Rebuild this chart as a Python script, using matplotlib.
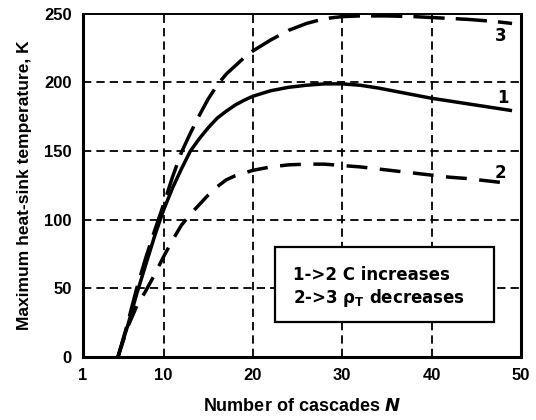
import matplotlib
matplotlib.use("Agg")
import matplotlib.pyplot as plt
from matplotlib.patches import Rectangle

# curve 1 (solid)
n1 = [4.9, 6, 7, 8, 9, 10, 11, 12, 13, 14, 15, 16, 17, 18, 19, 20, 22, 24, 26, 28, 30,
      32, 34, 36, 38, 40, 42, 44, 46, 48, 49]
t1 = [0, 23, 46, 67, 88, 107, 123, 137, 150, 159, 167, 174, 179, 183.5, 187, 190, 194,
      196.5, 198, 199, 199, 198, 196, 193.5, 191, 188.5, 186.5, 184.5, 182.5, 180.5, 179.5]

# curve 2 (short dashes)
n2 = [4.9, 6, 7, 8, 9, 10, 11, 12, 13, 14, 15, 16, 17, 18, 20, 22, 24, 26, 28, 30,
      32, 34, 36, 38, 40, 42, 44, 46, 48, 49]
t2 = [0, 22, 37, 48, 60, 73, 85, 96, 104, 111, 118, 124, 129, 132, 136, 138.5, 140,
      140.5, 140.5, 139.5, 138.5, 137, 135.5, 134, 132.5, 131, 130, 128.5, 127, 126]

# curve 3 (long dashes)
n3 = [4.9, 6, 7, 8, 9, 10, 11, 12, 13, 14, 15, 16, 17, 18, 19, 20, 22, 24, 26, 28, 30,
      32, 35, 38, 41, 44, 47, 49]
t3 = [0, 25, 50, 72, 92, 111, 131, 149, 163, 176, 188, 198, 206, 212, 218, 223, 231,
      238, 243, 246.5, 248, 248.5, 248.5, 248, 247, 246, 244.5, 243]

x_ticks = [1, 10, 20, 30, 40, 50]
y_ticks = [0, 50, 100, 150, 200, 250]
x_grid = [10, 20, 30, 40]
y_grid = [50, 100, 150, 200]

curve_labels = ["1", "2", "3"]
label_pos = [(48.0, 189), (47.7, 134), (47.7, 234)]

box_lines = ["1->2 C increases", r"2->3 ρ$_\mathbf{T}$ decreases"]

fig = plt.figure(figsize=(5.36, 4.2), dpi=100)
ax = fig.add_axes([0.155, 0.15, 0.817, 0.817])

for gx in x_grid:
    ax.axvline(gx, color="black", lw=1.3, dashes=(4.6, 2.8), zorder=1)
for gy in y_grid:
    ax.axhline(gy, color="black", lw=1.3, dashes=(4.6, 2.8), zorder=1)

ax.plot(n1, t1, color="black", lw=2.5, solid_capstyle="butt", zorder=3)
ax.plot(n2, t2, color="black", lw=2.5, dashes=(6.0, 3.6), zorder=3)
ax.plot(n3, t3, color="black", lw=2.5, dashes=(9.0, 3.2), zorder=3)

for lab, (lx, ly) in zip(curve_labels, label_pos):
    ax.text(lx, ly, lab, fontsize=12, fontweight="bold", ha="center", va="center",
            family="DejaVu Sans", zorder=4)

ax.add_patch(Rectangle((22.5, 25.5), 24.5, 54.5, facecolor="white", edgecolor="black",
                       lw=1.6, zorder=5))
ax.text(24.5, 60, box_lines[0], fontsize=12, fontweight="bold", family="DejaVu Sans",
        va="center", ha="left", zorder=6)
ax.text(24.5, 43, box_lines[1], fontsize=12, fontweight="bold", family="DejaVu Sans",
        va="center", ha="left", zorder=6)

ax.set_xlim(1, 50)
ax.set_ylim(0, 250)
ax.set_xticks(x_ticks)
ax.set_yticks(y_ticks)
ax.tick_params(length=0, pad=8)
for lbl in ax.get_xticklabels() + ax.get_yticklabels():
    lbl.set_fontweight("bold")
    lbl.set_fontsize(12)
    lbl.set_family("Liberation Sans")

for side in ["left", "bottom", "right"]:
    ax.spines[side].set_linewidth(2.2)
ax.spines["top"].set_linewidth(1.4)
for sp in ax.spines.values():
    sp.set_zorder(7)

ax.set_ylabel("Maximum heat-sink temperature, K", fontsize=12.5, fontweight="bold",
              family="Liberation Sans", labelpad=9)
ax.set_xlabel(r"Number of cascades $\boldsymbol{N}$", fontsize=13, fontweight="bold",
              family="Liberation Sans", labelpad=11)

fig.savefig("out.png", dpi=100)
